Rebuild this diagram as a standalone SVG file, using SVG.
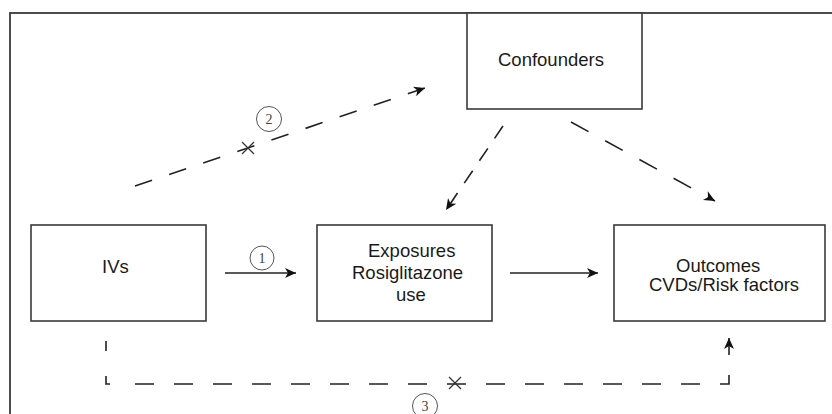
<svg xmlns="http://www.w3.org/2000/svg" width="832" height="414" viewBox="0 0 832 414">
<style>
.box{fill:#fff;stroke:#3a3a3a;stroke-width:1.6}
.lbl{font-family:"Liberation Sans",Arial,sans-serif;font-size:18.5px;fill:#1a1a1a}
.ln{fill:none;stroke:#222;stroke-width:1.6}
.num{font-family:"Liberation Serif","Times New Roman",serif;font-size:14px;fill:#444;text-anchor:middle}
.circ{fill:none;stroke:#555;stroke-width:1}
.x{stroke:#333;stroke-width:1.2}
</style>
<defs>
<marker id="ah" markerUnits="userSpaceOnUse" markerWidth="14" markerHeight="12" viewBox="-12 -6 14 12" refX="0" refY="0" orient="auto">
<path d="M0,0 L-11,-5 L-8,0 L-11,5 Z" fill="#111"/>
</marker>
</defs>
<rect x="10" y="13" width="830" height="410" fill="none" stroke="#3a3a3a" stroke-width="1.8"/>
<g id="connectors">
<line class="ln" x1="225" y1="273" x2="296" y2="273" marker-end="url(#ah)"/>
<line class="ln" x1="510" y1="273" x2="598" y2="273" marker-end="url(#ah)"/>
<line class="ln" x1="135" y1="186" x2="425" y2="88" stroke-dasharray="18 18" marker-end="url(#ah)"/>
<line class="ln" x1="503" y1="126" x2="446" y2="210" stroke-dasharray="15 12" marker-end="url(#ah)"/>
<line class="ln" x1="571" y1="122" x2="715" y2="201" stroke-dasharray="20 19" marker-end="url(#ah)"/>
<path class="ln" d="M106,341 V384 H729 V338" stroke-dasharray="10 25 12 25 19 20 19 20 19 20 19 20 19 20 19 20 19 20 19 20 19 20 19 20 19 20 19 20 19 20 19 20 19 20 18 20 17 100" marker-end="url(#ah)"/>
<line class="x" x1="242" y1="142" x2="254" y2="154"/>
<line class="x" x1="242" y1="154" x2="254" y2="142"/>
<line class="x" x1="449" y1="377" x2="461" y2="389"/>
<line class="x" x1="449" y1="389" x2="461" y2="377"/>
<circle class="circ" cx="262" cy="258" r="12"/>
<text class="num" x="262" y="263">1</text>
<circle class="circ" cx="269" cy="119" r="12.5"/>
<text class="num" x="269" y="124">2</text>
<circle class="circ" cx="425" cy="406" r="12.5"/>
<text class="num" x="425" y="411">3</text>
</g>
<g id="confounders">
<rect class="box" x="467" y="13" width="175" height="96"/>
<text class="lbl" x="498" y="66">Confounders</text>
</g>
<g id="ivs">
<rect class="box" x="31" y="225" width="175" height="96"/>
<text class="lbl" x="102" y="273">IVs</text>
</g>
<g id="exposures">
<rect class="box" x="317" y="225" width="175" height="96"/>
<text class="lbl" x="368" y="257">Exposures</text>
<text class="lbl" x="352" y="279">Rosiglitazone</text>
<text class="lbl" x="396" y="301">use</text>
</g>
<g id="outcomes">
<rect class="box" x="614" y="225" width="211" height="96"/>
<text class="lbl" x="676" y="272">Outcomes</text>
<text class="lbl" x="649" y="291">CVDs/Risk factors</text>
</g>
</svg>
